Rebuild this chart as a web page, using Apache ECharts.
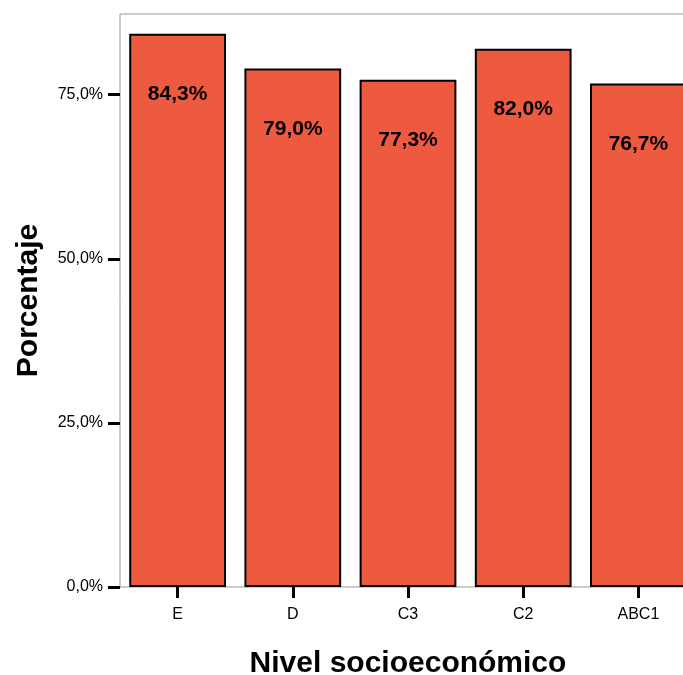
<!DOCTYPE html>
<html>
<head>
<meta charset="utf-8">
<script src="https://cdn.jsdelivr.net/npm/echarts@6/dist/echarts.min.js"></script>
<style>html,body{margin:0;padding:0;background:#fff}#c{width:683px;height:675px}</style>
</head>
<body>
<div id="c"></div>
<script>
var categories = ['E', 'D', 'C3', 'C2', 'ABC1'];
var values = [84.3, 79.0, 77.3, 82.0, 76.7];
var yTicks = [0, 25, 50, 75];
var yMax = 87.3;

function pct(v) { return v.toFixed(1).replace('.', ',') + '%'; }

var chart = echarts.init(document.getElementById('c'));
chart.setOption({
  animation: false,
  backgroundColor: '#fff',
  grid: { left: 120, top: 14, width: 576, height: 573, show: true, borderColor: '#999', borderWidth: 1, containLabel: false, outerBoundsMode: 'none' },
  xAxis: {
    type: 'category',
    data: categories,
    name: 'Nivel socioeconómico',
    nameLocation: 'middle',
    nameGap: 62,
    nameTextStyle: { fontFamily: 'Liberation Sans', fontWeight: 'bold', fontSize: 30, color: '#000' },
    axisLine: { show: false },
    axisTick: { show: true, alignWithLabel: true, length: 11, lineStyle: { color: '#000', width: 3 } },
    axisLabel: { fontFamily: 'Liberation Sans', fontSize: 16, color: '#000', margin: 20 },
    splitLine: { show: false }
  },
  yAxis: {
    type: 'value',
    min: 0,
    max: yMax,
    interval: 25,
    name: 'Porcentaje',
    nameLocation: 'middle',
    nameGap: 76,
    nameTextStyle: { fontFamily: 'Liberation Sans', fontWeight: 'bold', fontSize: 30, color: '#000' },
    axisLine: { show: false },
    axisTick: { show: true, length: 12, customValues: yTicks, lineStyle: { color: '#000', width: 3 } },
    axisLabel: { fontFamily: 'Liberation Sans', fontSize: 16, color: '#000', margin: 17, customValues: yTicks, formatter: function (v) { return pct(v); } },
    splitLine: { show: false }
  },
  series: [{
    type: 'bar',
    data: values,
    barWidth: '84%',
    itemStyle: { color: '#EE5A3F', borderColor: '#000', borderWidth: 2 },
    label: {
      show: true,
      position: 'insideTop',
      distance: 50,
      fontFamily: 'Liberation Sans',
      fontWeight: 'bold',
      fontSize: 21,
      color: '#000',
      formatter: function (p) { return pct(p.value); }
    }
  }]
});
</script>
</body>
</html>
